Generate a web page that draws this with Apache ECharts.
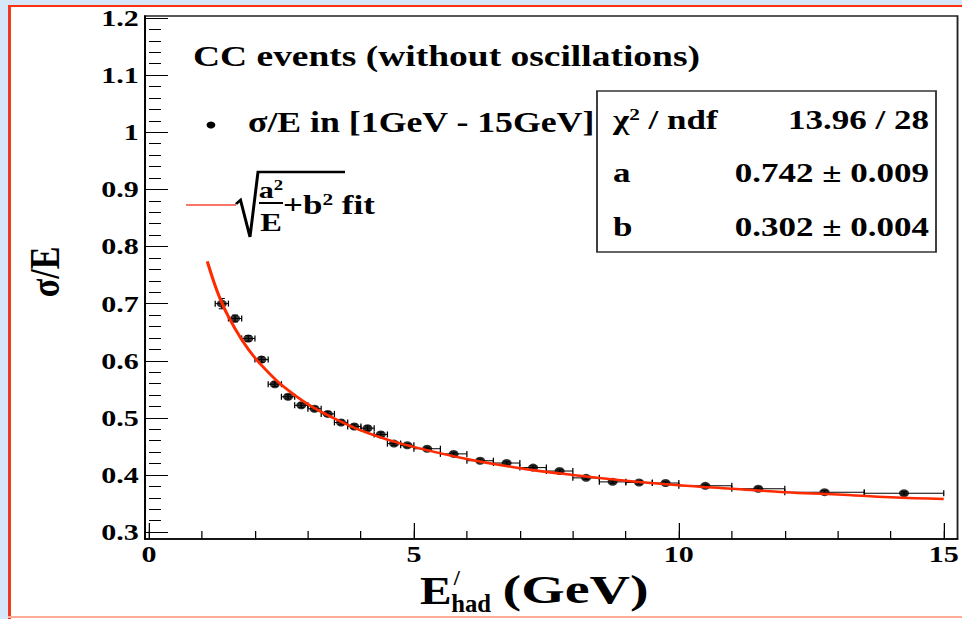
<!DOCTYPE html>
<html><head><meta charset="utf-8">
<script src="https://cdn.jsdelivr.net/npm/echarts@6/dist/echarts.min.js"></script>
<style>
html,body{margin:0;padding:0;width:962px;height:619px;overflow:hidden;background:#d5e7f9;}
#page{position:relative;width:962px;height:619px;overflow:hidden;background:#d5e7f9;}
.fr{position:absolute;}
#chart{position:absolute;left:0;top:0;width:770px;height:619px;transform:scaleX(1.25);transform-origin:0 0;z-index:2;}
#cover{position:absolute;left:959px;top:7px;width:3px;height:609px;background:#fff;z-index:10;}
</style></head><body>
<div id="page">
  <div class="fr" style="left:8px;top:5px;width:954px;height:614px;background:#fff;"></div>
  <div class="fr" style="left:8px;top:5px;width:3px;height:614px;background:#ec3a22;"></div>
  <div class="fr" style="left:8px;top:5px;width:954px;height:2px;background:#ff3010;"></div>
  <div class="fr" style="left:8px;top:616px;width:954px;height:2px;background:#ffab98;"></div>
  <div id="chart"></div>
  <div id="cover"></div>
</div>
<script>
// ---- data ----
const energies = [1.375,1.625,1.875,2.125,2.375,2.625,2.875,3.125,3.375,3.625,3.875,4.125,4.375,4.625,4.875,5.25,5.75,6.25,6.75,7.25,7.75,8.25,8.75,9.25,9.75,10.5,11.5,12.75,14.25];
const sigmaOverE = [0.700,0.674,0.639,0.602,0.559,0.537,0.522,0.516,0.507,0.492,0.485,0.482,0.471,0.455,0.452,0.446,0.437,0.425,0.421,0.413,0.407,0.395,0.388,0.387,0.386,0.381,0.376,0.370,0.368];
const energyErr = [0.125,0.125,0.125,0.125,0.125,0.125,0.125,0.125,0.125,0.125,0.125,0.125,0.125,0.125,0.125,0.25,0.25,0.25,0.25,0.25,0.25,0.25,0.25,0.25,0.25,0.5,0.5,0.75,0.75];
const sigmaErr = [0.009,0.006,0.005,0.005,0.004,0.004,0.004,0.004,0.004,0.004,0.004,0.004,0.004,0.003,0.003,0.003,0.003,0.003,0.003,0.003,0.003,0.003,0.003,0.003,0.003,0.003,0.003,0.003,0.003];
const fitEnergies = [1.1,1.25,1.35,1.5,1.75,2,2.25,2.5,3,3.5,4,4.5,5,6,7,8,9,10,11,12,13,14,15];
const fitValues = [0.774,0.731,0.707,0.677,0.637,0.605,0.580,0.558,0.524,0.499,0.478,0.462,0.449,0.428,0.412,0.400,0.390,0.382,0.376,0.370,0.366,0.361,0.358];
const xTickLabels = [0,5,10,15];
const xMinorTicks = [0,1,2,3,4,5,6,7,8,9,10,11,12,13,14,15];
const yTickLabels = [0.3,0.4,0.5,0.6,0.7,0.8,0.9,1,1.1,1.2];
const yMinorTicks = [0.3,0.32,0.34,0.36,0.38,0.4,0.42,0.44,0.46,0.48,0.5,0.52,0.54,0.56,0.58,0.6,0.62,0.64,0.66,0.68,0.7,0.72,0.74,0.76,0.78,0.8,0.82,0.84,0.86,0.88,0.9,0.92,0.94,0.96,0.98,1,1.02,1.04,1.06,1.08,1.1,1.12,1.14,1.16,1.18,1.2];
const statLabels = ['a', 'b'];
const statValues = ['13.96 / 28', '0.742 ± 0.009', '0.302 ± 0.004'];

const FF = 'Liberation Serif';
const X_MIN = -0.075, X_MAX = 15.26, Y_MIN = 0.288, Y_MAX = 1.2035;

const pointData = energies.map((e, i) => [e, sigmaOverE[i]]);
const errData = energies.map((e, i) => [e, sigmaOverE[i], energyErr[i], sigmaErr[i]]);
const fitData = fitEnergies.map((e, i) => [e, fitValues[i]]);

function txt(text, x, y, size, extra) {
  return {
    type: 'text', z: 50,
    style: Object.assign({ text: text, x: x, y: y, fontFamily: FF, fontWeight: 'bold', fontSize: size, fill: '#000', textAlign: 'left', textVerticalAlign: 'middle' }, extra || {})
  };
}
function stxt(text, x, y, size, sx) {
  return { type: 'text', z: 50, x: x, y: y, scaleX: sx, style: { text: text, x: 0, y: 0, fontFamily: FF, fontWeight: 'bold', fontSize: size, fill: '#000', textAlign: 'left', textVerticalAlign: 'middle' } };
}
const supRich = (m, s) => ({ m: { fontFamily: FF, fontWeight: 'bold', fontSize: m, fill: '#000' }, s: { fontFamily: FF, fontWeight: 'bold', fontSize: s, fill: '#000', verticalAlign: 'top' } });

const chart = echarts.init(document.getElementById('chart'), null, { renderer: 'svg', width: 770, height: 619 });

const axisBase = { type: 'value', splitLine: { show: false }, axisPointer: { show: false } };
const labelStyle = { color: '#000', fontFamily: FF, fontWeight: 'bold', fontSize: 24 };

chart.setOption({
  animation: false,
  backgroundColor: 'transparent',
  textStyle: { fontFamily: FF },
  grid: { left: 116, right: 3.6, top: 16, bottom: 80, show: true, borderColor: '#222', borderWidth: 1.5, backgroundColor: 'transparent' },
  xAxis: [
    Object.assign({}, axisBase, {
      min: X_MIN, max: X_MAX, position: 'bottom',
      axisLine: { show: true, onZero: false, lineStyle: { color: '#000', width: 1.5 } },
      axisTick: { show: true, inside: true, length: 16, customValues: xTickLabels, lineStyle: { color: '#000', width: 1 } },
      axisLabel: Object.assign({ customValues: xTickLabels, margin: 3 }, labelStyle)
    }),
    Object.assign({}, axisBase, {
      min: X_MIN, max: X_MAX, position: 'bottom',
      axisLine: { show: false },
      axisTick: { show: true, inside: true, length: 8, customValues: xMinorTicks, lineStyle: { color: '#000', width: 1 } },
      axisLabel: { show: false }
    })
  ],
  yAxis: [
    Object.assign({}, axisBase, {
      min: Y_MIN, max: Y_MAX, position: 'left',
      axisLine: { show: true, onZero: false, lineStyle: { color: '#000', width: 1.5 } },
      axisTick: { show: true, inside: true, length: 18.4, customValues: yTickLabels, lineStyle: { color: '#000', width: 1 } },
      axisLabel: Object.assign({ customValues: yTickLabels, margin: 5 }, labelStyle)
    }),
    Object.assign({}, axisBase, {
      min: Y_MIN, max: Y_MAX, position: 'left',
      axisLine: { show: false },
      axisTick: { show: true, inside: true, length: 9.6, customValues: yMinorTicks, lineStyle: { color: '#000', width: 1 } },
      axisLabel: { show: false }
    })
  ],
  series: [
    {
      type: 'custom', xAxisIndex: 0, yAxisIndex: 0, z: 3, silent: true,
      data: errData,
      renderItem: function (params, api) {
        const x = api.value(0), y = api.value(1), ex = api.value(2), ey = api.value(3);
        const l = api.coord([x - ex, y]), r = api.coord([x + ex, y]);
        const t = api.coord([x, y + ey]), b = api.coord([x, y - ey]);
        const st = { stroke: '#000', lineWidth: 1 };
        const cap = 3, capw = 2.4;
        return { type: 'group', children: [
          { type: 'line', shape: { x1: l[0], y1: l[1], x2: r[0], y2: r[1] }, style: st },
          { type: 'line', shape: { x1: l[0], y1: l[1] - cap, x2: l[0], y2: l[1] + cap }, style: st },
          { type: 'line', shape: { x1: r[0], y1: r[1] - cap, x2: r[0], y2: r[1] + cap }, style: st },
          { type: 'line', shape: { x1: t[0], y1: t[1], x2: b[0], y2: b[1] }, style: st },
          { type: 'line', shape: { x1: t[0] - capw, y1: t[1], x2: t[0] + capw, y2: t[1] }, style: st },
          { type: 'line', shape: { x1: b[0] - capw, y1: b[1], x2: b[0] + capw, y2: b[1] }, style: st }
        ] };
      }
    },
    {
      type: 'scatter', xAxisIndex: 0, yAxisIndex: 0, z: 4, silent: true,
      symbol: 'circle', symbolSize: 8, itemStyle: { color: '#000' },
      data: pointData
    },
    {
      type: 'line', xAxisIndex: 0, yAxisIndex: 0, z: 5, silent: true,
      smooth: 0.4, showSymbol: false, symbol: 'none',
      lineStyle: { color: '#ff2a00', width: 2.5 },
      data: fitData
    }
  ],
  graphic: [
    txt('CC events (without oscillations)', 154.4, 56, 30),
    { type: 'circle', z: 50, shape: { cx: 168.8, cy: 125, r: 3.5 }, style: { fill: '#000' } },
    txt('σ/E in [1GeV - 15GeV]', 198.4, 122, 28.6),
    { type: 'line', z: 50, shape: { x1: 148.8, y1: 205, x2: 188.8, y2: 205 }, style: { stroke: '#f5473a', lineWidth: 1.5 } },
    { type: 'polyline', z: 50, shape: { points: [[188.8, 204], [192.4, 200], [200, 237], [206.4, 172], [276, 172]] }, style: { stroke: '#000', lineWidth: 2.4, fill: null, lineJoin: 'miter' } },
    txt('{m|a}{s|2}', 216.8, 190, 22, { textAlign: 'center', rich: supRich(24, 15) }),
    { type: 'line', z: 50, shape: { x1: 207.2, y1: 203, x2: 226.4, y2: 203 }, style: { stroke: '#000', lineWidth: 2 } },
    txt('E', 216.8, 222, 26, { textAlign: 'center' }),
    txt('{m|+b}{s|2}{m| fit}', 226.4, 205, 28, { rich: supRich(28, 17) }),
    { type: 'rect', z: 40, shape: { x: 477.6, y: 91, width: 271.2, height: 161 }, style: { fill: '#fff', stroke: '#333', lineWidth: 1.5 } },
    txt('{m|χ}{s|2}{m| / ndf}', 490.4, 120, 28, { rich: supRich(28, 17) }),
    txt(statValues[0], 743.2, 120, 28, { textAlign: 'right' }),
    txt(statLabels[0], 490.4, 173, 28),
    txt(statValues[1], 743.2, 173, 28, { textAlign: 'right' }),
    txt(statLabels[1], 490.4, 227, 28),
    txt(statValues[2], 743.2, 227, 28, { textAlign: 'right' }),
    { type: 'text', z: 50, x: 36, y: 272, rotation: Math.PI / 2, style: { text: 'σ/E', fontFamily: FF, fontWeight: 'bold', fontSize: 34, fill: '#000', textAlign: 'center', textVerticalAlign: 'middle' } },
    stxt('E', 336, 590, 40, 0.95),
    stxt('/', 363, 577, 22, 0.8),
    stxt('had', 361, 603, 26, 0.76),
    stxt('(GeV)', 402, 590, 40, 1.12)
  ]
});
</script>
</body></html>
